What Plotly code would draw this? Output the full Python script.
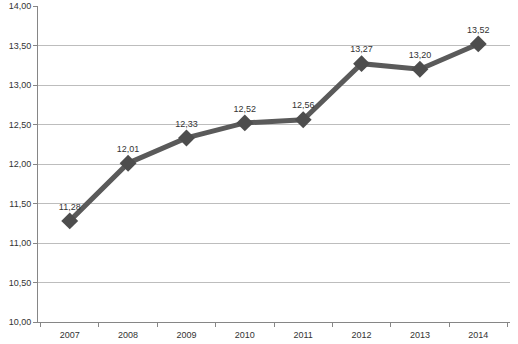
import plotly.graph_objects as go

years = ["2007", "2008", "2009", "2010", "2011", "2012", "2013", "2014"]
values = [11.28, 12.01, 12.33, 12.52, 12.56, 13.27, 13.20, 13.52]
labels = ["11,28", "12,01", "12,33", "12,52", "12,56", "13,27", "13,20", "13,52"]
y_ticks = [10.0, 10.5, 11.0, 11.5, 12.0, 12.5, 13.0, 13.5, 14.0]
y_tick_text = ["10,00", "10,50", "11,00", "11,50", "12,00", "12,50", "13,00", "13,50", "14,00"]

fig = go.Figure()
fig.add_trace(go.Scatter(
    x=years, y=values, mode="lines+markers+text",
    text=labels, textposition="top center",
    textfont=dict(family="Liberation Sans, Arial, sans-serif", size=9, color="#333333"),
    line=dict(color="#5a5a5a", width=5),
    marker=dict(symbol="diamond", size=13, color="#4d4d4d"),
    cliponaxis=False,
))

fig.update_layout(
    width=518, height=344,
    margin=dict(l=38, r=8, t=6, b=22, autoexpand=False),
    paper_bgcolor="white", plot_bgcolor="white",
    showlegend=False,
    font=dict(family="Liberation Sans, Arial, sans-serif", size=9, color="#333333"),
)
fig.update_xaxes(
    type="category", tickson="boundaries", ticks="outside", ticklen=4,
    tickcolor="#868686", showline=True, linecolor="#868686", linewidth=1,
    showgrid=False, tickfont=dict(size=9), automargin=False,
    ticklabelstandoff=4,
)
fig.update_yaxes(
    range=[10, 14], tickvals=y_ticks, ticktext=y_tick_text,
    ticks="outside", ticklen=4, tickcolor="#868686",
    showline=True, linecolor="#868686", linewidth=1,
    showgrid=True, gridcolor="#bdbdbd", gridwidth=1, zeroline=False,
    tickfont=dict(size=9), automargin=False,
)

fig.write_html("out.html", config={"displayModeBar": False},
               post_script="document.body.style.margin='0';")
